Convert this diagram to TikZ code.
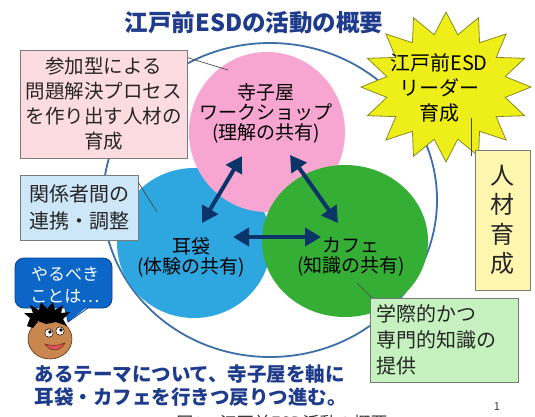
\documentclass[tikz,border=0pt]{standalone}
\usepackage{fontspec}
\setmainfont{Noto Sans CJK JP}
\usetikzlibrary{arrows.meta}

\definecolor{titleblue}{HTML}{1F3C8C}
\definecolor{ringblue}{HTML}{3D6FA6}
\definecolor{pinkdisc}{HTML}{F7A6D2}
\definecolor{bluedisc}{HTML}{2EA6DF}
\definecolor{greendisc}{HTML}{34AE34}
\definecolor{arrownavy}{HTML}{0B3468}
\definecolor{boxgray}{HTML}{7A7A7A}
\definecolor{linegray}{HTML}{4A4A4A}
\definecolor{pinkbg}{HTML}{FCDCE0}
\definecolor{bluebg}{HTML}{CDE6F8}
\definecolor{greenbg}{HTML}{C6F2C0}
\definecolor{yellowbg}{HTML}{FFF6B0}
\definecolor{stary}{HTML}{EEEE18}
\definecolor{staredge}{HTML}{8A8A20}
\definecolor{bubbleblue}{HTML}{0B66C8}
\definecolor{bubbleedge}{HTML}{0A3F90}
\definecolor{skin}{HTML}{C8874F}
\definecolor{skinedge}{HTML}{5A3010}
\definecolor{lipred}{HTML}{E0505A}

\newcommand\jfs[2]{\fontsize{#1}{#2}\selectfont}

\begin{document}
\begin{tikzpicture}[x=1pt,y=-1pt,
  textbox/.style={draw=boxgray, line width=0.8pt, inner sep=0pt, text=black!85},
  connector/.style={draw=linegray, line width=0.7pt},
  biarrow/.style={draw=arrownavy, line width=4pt,
    {Triangle[length=16pt,width=18pt]}-{Triangle[length=16pt,width=18pt]}},
  disclabel/.style={align=center, text=black, font=\jfs{19}{20}},
]
\useasboundingbox (0,0) rectangle (535,416);
\clip (0,0) rectangle (535,416);
\fill[white] (0,0) rectangle (535,416);

% title
\node[text=titleblue, font=\jfs{23.5}{26}\bfseries] (title) at (254,23) {江戸前ESDの活動の概要};

% outer ring
\draw[ringblue, line width=1.8pt] (270,200) ellipse [x radius=167pt, y radius=157pt];

% the three overlapping discs
\fill[bluedisc]  (194,243) ellipse [x radius=77pt, y radius=75pt];
\fill[pinkdisc]  (267,132) ellipse [x radius=78pt, y radius=80pt];
\fill[greendisc] (345,241) ellipse [x radius=83pt, y radius=76pt];

\node[disclabel] (terakoya) at (266,113) {寺子屋\\ワークショップ\\(理解の共有)};
\node[disclabel] (mimibukuro) at (191,257) {耳袋\\(体験の共有)};
\node[disclabel] (cafe) at (351,257) {カフェ\\(知識の共有)};

% double-headed arrows between the discs
\coordinate (a1s) at (242,156);
\coordinate (a1e) at (202,223);
\coordinate (a2s) at (290,155);
\coordinate (a2e) at (338,223);
\coordinate (a3s) at (233,237);
\coordinate (a3e) at (321,237);
\draw[biarrow] (a1s) -- (a1e);
\draw[biarrow] (a2s) -- (a2e);
\draw[biarrow] (a3s) -- (a3e);

% callout boxes
\coordinate (pinkpt) at (228,70);
\coordinate (bluept) at (157,212);
\coordinate (greenpt) at (357,283);

\node[textbox, fill=pinkbg, minimum width=167pt, minimum height=108pt,
      align=center, font=\jfs{19.5}{25}] (pinkbox) at (103.5,104)
  {参加型による\\問題解決プロセス\\を作り出す人材の\\育成};
\draw[connector] ([yshift=-8pt]pinkbox.north east) -- (pinkpt);

\node[textbox, fill=bluebg, minimum width=118pt, minimum height=65pt,
      align=center, font=\jfs{20}{27}] (bluebox) at (79,207.5)
  {関係者間の\\連携・調整};
\draw[connector] ([yshift=-8pt]bluebox.north east) -- (bluept);

\draw[connector] (greenpt) -- (377,303) coordinate (greenend);
\node[textbox, fill=greenbg, text width=136pt, inner xsep=6pt, minimum height=84pt,
      align=left, font=\jfs{20}{26}] (greenbox) at (444,340)
  {学際的かつ\\専門的知識の\\提供};

% starburst
\draw[fill=stary, draw=staredge, line width=0.8pt]
  plot[samples at={0,...,31}]
  ({446+85*(1-0.29*mod(\x,2))*cos(\x*11.25)}, {87+75*(1-0.29*mod(\x,2))*sin(\x*11.25)}) -- cycle;
\node[align=center, text=black, font=\jfs{20}{25}] (leader) at (439,88)
  {江戸前ESD\\リーダー\\育成};

% vertical box
\node[textbox, fill=yellowbg, minimum width=55pt, minimum height=140pt,
      align=center, font=\jfs{24}{29.5}] (jinzai) at (502.5,220)
  {人\\材\\育\\成};
\coordinate (startail) at (471,118);
\coordinate (jinzaitop) at (471,156);
\draw[connector] (startail) -- (jinzaitop);

% speech bubble
\draw[fill=bubbleblue, draw=bubbleedge, line width=0.8pt, rounded corners=9pt]
  (15,258) rectangle (112,308);
\fill[bubbleblue] (64,306) -- (68,322) -- (88,306) -- cycle;
\draw[bubbleedge, line width=0.8pt] (65,308) -- (68,322) -- (88,308);
\node[align=center, text=white, font=\jfs{17}{22}] (bubbletext) at (65,285)
  {やるべき\\ことは…};

% little face
\fill[skin, draw=skinedge, line width=0.6pt] (50,339) ellipse [x radius=22pt, y radius=20pt];
\fill[black] (27,326) -- (30,318) -- (24,313) -- (33,313) -- (30,305) -- (39,310)
  -- (41,302) -- (47,309) -- (53,302) -- (55,310) -- (63,305) -- (61,313)
  -- (70,312) -- (63,319) -- (67,326) -- (56,322) -- (46,324) -- (38,321) -- (33,328) -- cycle;
\fill[white, draw=black, line width=0.5pt] (49,333) circle[radius=4.2pt];
\fill[white, draw=black, line width=0.5pt] (60,331) circle[radius=4.2pt];
\fill[black] (50,332) circle[radius=1.8pt];
\fill[black] (61,330) circle[radius=1.8pt];
\fill[lipred, draw=skinedge, line width=0.5pt] (45,344) .. controls (50,352) and (60,352) .. (65,343) .. controls (58,346) and (51,346) .. (45,344) -- cycle;

% summary sentence
\node[anchor=west, align=left, text=titleblue, font=\jfs{19.5}{23}\bfseries] (summary) at (31,386)
  {あるテーマについて、寺子屋を軸に\\耳袋・カフェを行きつ戻りつ進む。};

% caption and page number at the bottom edge
\node[text=black!80, font=\jfs{17}{20}] (caption) at (282,423) {図1　江戸前ESD活動の概要};
\node[text=black!80, font=\jfs{11}{12}] (pageno) at (497,407) {1};
\end{tikzpicture}
\end{document}
